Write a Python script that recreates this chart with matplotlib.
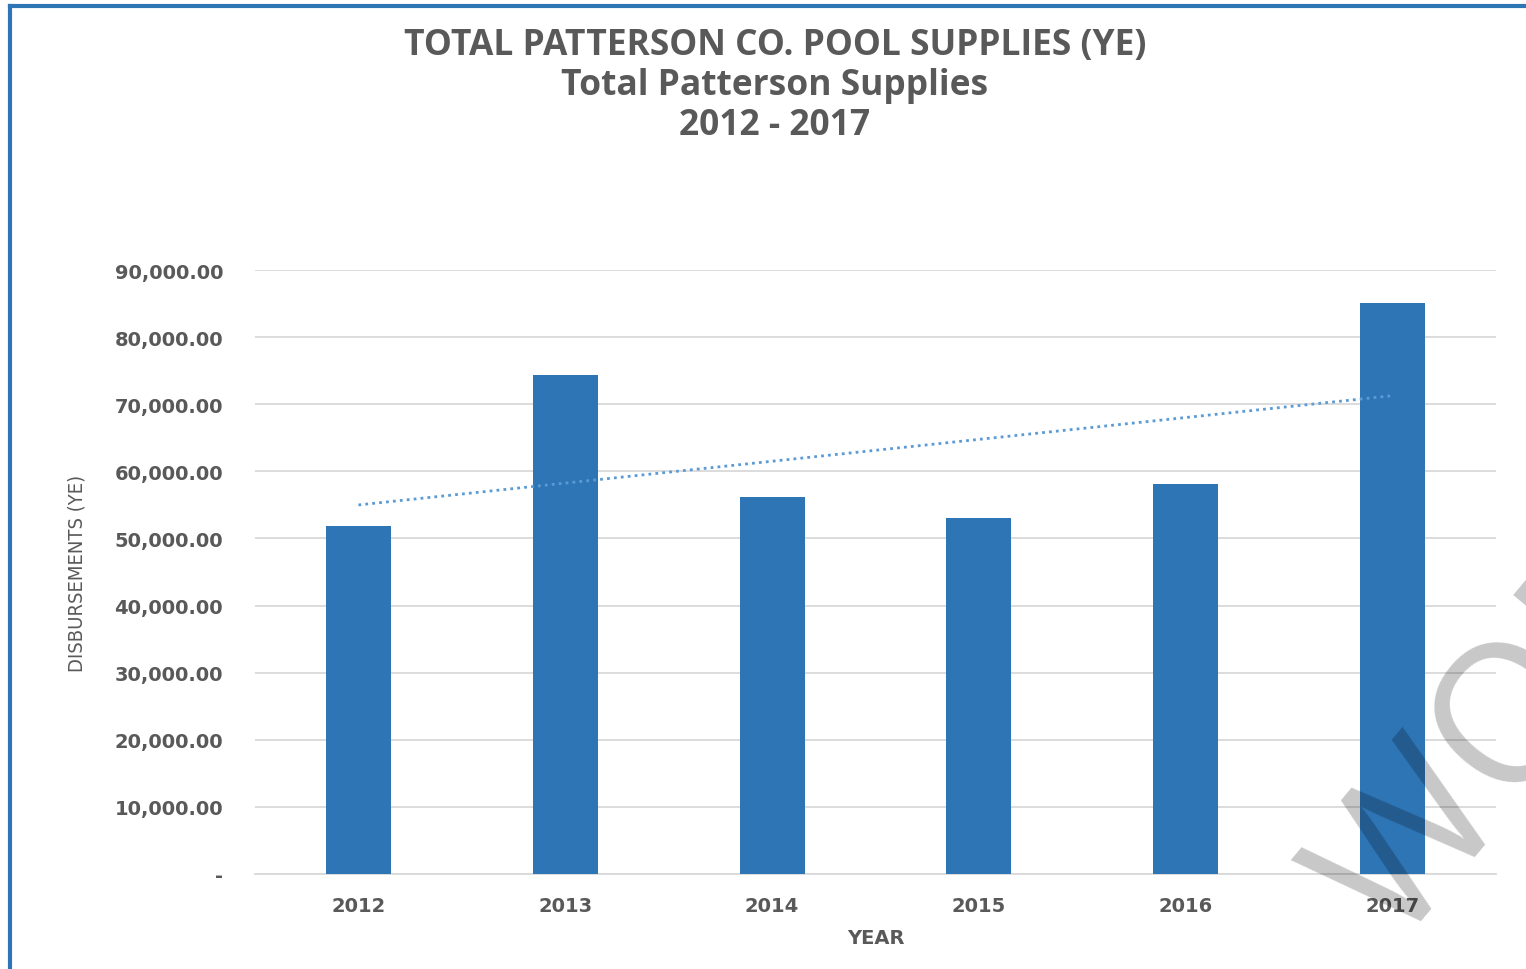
import numpy as np
import matplotlib
matplotlib.use("Agg")
import matplotlib.pyplot as plt
from matplotlib.lines import Line2D

# data
years = ["2012", "2013", "2014", "2015", "2016", "2017"]
disbursements = [51900, 74400, 56200, 53100, 58100, 85100]
y_ticks = [0, 10000, 20000, 30000, 40000, 50000, 60000, 70000, 80000, 90000]

bar_color = "#2E75B6"
trend_color = "#5B9BD5"
text_color = "#595959"
font = ["Open Sans", "DejaVu Sans"]
plt.rcParams["font.family"] = font

fig = plt.figure(figsize=(15.26, 9.70), dpi=100)
ax = fig.add_axes([255 / 1526, 1 - 875 / 970, (1496 - 255) / 1526, (875 - 271) / 970])

x = np.arange(len(years))
ax.bar(x, disbursements, width=0.315, color=bar_color, zorder=3)

# linear trendline like excel
coef = np.polyfit(x + 1, disbursements, 1)
ax.plot(x, np.polyval(coef, x + 1), linestyle=(0, (1, 1.5)), color=trend_color, lw=2, zorder=4)

ax.set_xlim(-0.5, 5.5)
ax.set_ylim(0, 90000)
ax.set_yticks(y_ticks)
ax.set_yticklabels(["-" if v == 0 else f"{v:,.2f}" for v in y_ticks])
ax.set_xticks(x)
ax.set_xticklabels(years)
ax.yaxis.grid(True, color="#D9D9D9", lw=1.3, zorder=0)
for s in ["top", "right", "left"]:
    ax.spines[s].set_visible(False)
ax.spines["bottom"].set_color("#D9D9D9")
ax.spines["bottom"].set_linewidth(1.3)
ax.tick_params(axis="both", length=0, colors=text_color, labelsize=14)
ax.tick_params(axis="y", pad=23)
ax.tick_params(axis="x", pad=15.5)
for lbl in ax.get_xticklabels() + ax.get_yticklabels():
    lbl.set_fontweight("bold")
    lbl.set_family("DejaVu Sans")

ax.set_xlabel("YEAR", fontsize=14, fontweight="bold", color=text_color, labelpad=10, family="DejaVu Sans")
fig.text(77 / 1526, 1 - 573 / 970, "DISBURSEMENTS (YE)", rotation=90, ha="center", va="center",
         fontsize=14.5, color=text_color, family="DejaVu Sans", stretch="condensed")

# title, three lines
for i, line in enumerate(["TOTAL PATTERSON CO. POOL SUPPLIES (YE)", "Total Patterson Supplies", "2012 - 2017"]):
    fig.text(775 / 1526, 1 - (46 + 40 * i) / 970, line, ha="center", va="center",
             fontsize=25.5, fontweight="bold", color=text_color)

# blue frame (left and top edges visible)
fig.add_artist(Line2D([10 / 1526, 10 / 1526], [0, 1 - 7 / 970], transform=fig.transFigure, color=bar_color, lw=3))
fig.add_artist(Line2D([10 / 1526, 1], [1 - 7 / 970, 1 - 7 / 970], transform=fig.transFigure, color=bar_color, lw=3))

# watermark, mostly cut off
fig.text(1395 / 1526, 1 - 950 / 970, "WORK", rotation=50, rotation_mode="anchor", ha="left", va="baseline",
         fontsize=140, color="black", alpha=0.22, family=font, zorder=10)

fig.savefig("out.png", dpi=100)
